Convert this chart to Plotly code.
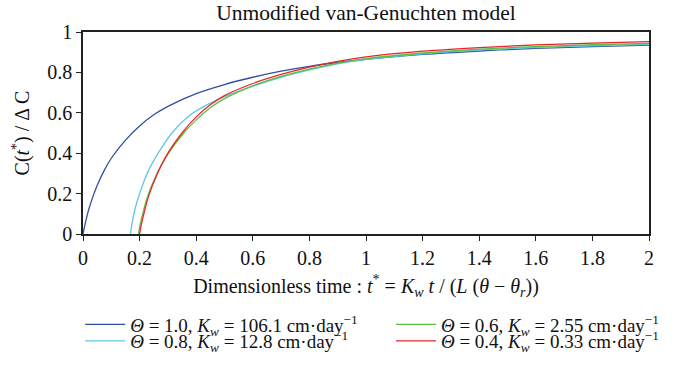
import plotly.graph_objects as go

# Dimensionless time t* and normalised concentration C(t*)/ΔC
t_blue = [0.0, 0.01, 0.02, 0.035, 0.05, 0.075, 0.10, 0.15, 0.20, 0.25, 0.30, 0.40, 0.50, 0.60, 0.70, 0.80, 0.90, 1.00, 1.20, 1.40, 1.60, 1.80, 2.00]
c_blue = [0.0, 0.065, 0.12, 0.185, 0.24, 0.315, 0.375, 0.465, 0.535, 0.59, 0.632, 0.695, 0.74, 0.776, 0.806, 0.83, 0.849, 0.865, 0.889, 0.906, 0.919, 0.928, 0.935]

t_cyan = [0.168, 0.173, 0.183, 0.200, 0.230, 0.270, 0.320, 0.380, 0.450, 0.50, 0.60, 0.70, 0.80, 0.90, 1.00, 1.20, 1.40, 1.60, 1.80, 2.00]
c_cyan = [0.0, 0.05, 0.12, 0.20, 0.31, 0.41, 0.51, 0.59, 0.648, 0.68, 0.732, 0.776, 0.812, 0.842, 0.864, 0.892, 0.911, 0.923, 0.932, 0.939]

t_green = [0.196, 0.201, 0.211, 0.227, 0.258, 0.300, 0.350, 0.400, 0.450, 0.50, 0.60, 0.70, 0.80, 0.90, 1.00, 1.20, 1.40, 1.60, 1.80, 2.00]
c_green = [0.0, 0.04, 0.10, 0.18, 0.29, 0.395, 0.49, 0.565, 0.625, 0.67, 0.733, 0.78, 0.816, 0.846, 0.868, 0.896, 0.915, 0.928, 0.937, 0.944]

t_red = [0.200, 0.205, 0.215, 0.230, 0.260, 0.300, 0.350, 0.400, 0.450, 0.50, 0.60, 0.70, 0.80, 0.90, 1.00, 1.20, 1.40, 1.60, 1.80, 2.00]
c_red = [0.0, 0.04, 0.10, 0.18, 0.29, 0.40, 0.50, 0.58, 0.64, 0.685, 0.745, 0.79, 0.826, 0.855, 0.877, 0.905, 0.923, 0.936, 0.945, 0.952]

labels = [
    "<i>Θ</i> = 1.0, <i>K<sub>w</sub></i> = 106.1 cm·day<sup>−1</sup>",
    "<i>Θ</i> = 0.8, <i>K<sub>w</sub></i> = 12.8 cm·day<sup>−1</sup>",
    "<i>Θ</i> = 0.6, <i>K<sub>w</sub></i> = 2.55 cm·day<sup>−1</sup>",
    "<i>Θ</i> = 0.4, <i>K<sub>w</sub></i> = 0.33 cm·day<sup>−1</sup>",
]
colors = ["#2f4fa2", "#5fc9e2", "#5cbf3c", "#e8262b"]
series = [(t_blue, c_blue), (t_cyan, c_cyan), (t_green, c_green), (t_red, c_red)]
legend_ids = ["legend2", "legend3", "legend4", "legend5"]

x_ticks = [0, 0.2, 0.4, 0.6, 0.8, 1, 1.2, 1.4, 1.6, 1.8, 2]
y_ticks = [0, 0.2, 0.4, 0.6, 0.8, 1]

FONT = "Liberation Serif"
FS = 20

fig = go.Figure()
for (tx, cy), lab, col, lg in zip(series, labels, colors, legend_ids):
    fig.add_trace(go.Scatter(
        x=tx, y=cy, mode="lines", name=lab,
        line=dict(color=col, width=1.3, shape="spline", smoothing=1.0),
        legend=lg, showlegend=True,
    ))

leg_common = dict(font=dict(family=FONT, size=19, color="#111"),
                  bgcolor="rgba(0,0,0,0)", borderwidth=0, itemwidth=40,
                  xanchor="left", yanchor="middle", tracegroupgap=0, visible=True)
fig.update_layout(
    width=680, height=372,
    margin=dict(l=83, r=31, t=32, b=135),
    paper_bgcolor="white", plot_bgcolor="white",
    showlegend=True,
    font=dict(family=FONT, size=FS, color="#111"),
    title=dict(text="Unmodified van-Genuchten model", x=0.5, xref="paper", xanchor="center",
               y=0.966, yref="container", yanchor="middle",
               font=dict(family=FONT, size=21.5, color="#111")),
    legend2=dict(x=-0.005, y=-0.448, **leg_common),
    legend3=dict(x=-0.005, y=-0.530, **leg_common),
    legend4=dict(x=0.544, y=-0.448, **leg_common),
    legend5=dict(x=0.544, y=-0.530, **leg_common),
    xaxis=dict(range=[0, 2], tickvals=x_ticks, ticks="outside", ticklen=5,
               tickwidth=1.2, tickcolor="#222", showline=True, linecolor="#222",
               linewidth=1.5, mirror=True, showgrid=False, zeroline=False,
               tickfont=dict(family=FONT, size=FS),
               title=dict(text="Dimensionless time : <i>t</i><sup>*</sup> = <i>K<sub>w</sub></i> <i>t</i> / (<i>L</i> (<i>θ</i> − <i>θ<sub>r</sub></i>))",
                          font=dict(family=FONT, size=FS), standoff=11)),
    yaxis=dict(range=[0, 1], tickvals=y_ticks, ticks="outside", ticklen=5,
               tickwidth=1.2, tickcolor="#222", showline=True, linecolor="#222",
               linewidth=1.5, mirror=True, showgrid=False, zeroline=False,
               tickfont=dict(family=FONT, size=FS),
               title=dict(text="C(<i>t</i><sup>*</sup>) / Δ C",
                          font=dict(family=FONT, size=FS), standoff=12)),
)

fig.write_html("out.html")
